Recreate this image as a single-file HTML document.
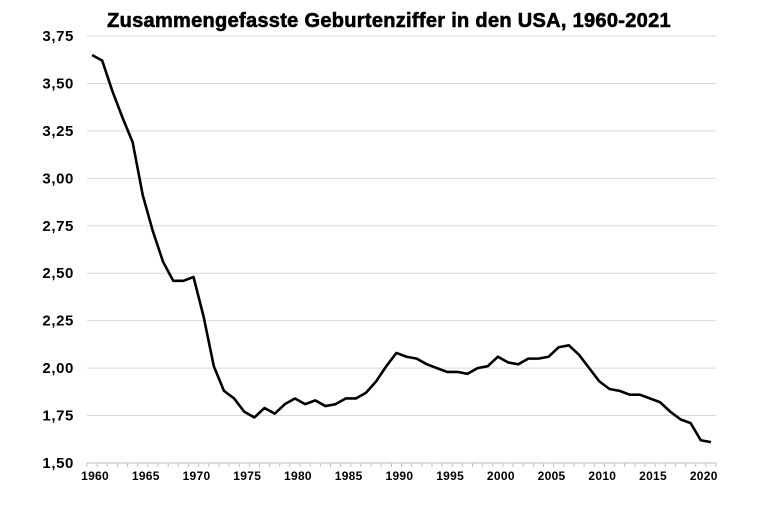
<!DOCTYPE html>
<html><head><meta charset="utf-8"><style>
body{margin:0;background:#fff;}
svg{display:block;font-family:"Liberation Sans",Arial,sans-serif;}
</style></head><body>
<svg id="chart" width="768" height="512" viewBox="0 0 768 512">
<text x="389" y="27" text-anchor="middle" font-size="20" font-weight="bold" letter-spacing="0.3" stroke="#000" stroke-width="0.6">Zusammengefasste Geburtenziffer in den USA, 1960-2021</text>
<g id="grid"></g><g id="axis"></g><g id="series"></g>
</svg>
<script>
const years=[];for(let y=1960;y<=2021;y++)years.push(y);
const tfr=[3.65,3.62,3.46,3.32,3.19,2.91,2.72,2.56,2.46,2.46,2.48,2.27,2.01,1.88,1.84,1.77,1.74,1.79,1.76,1.81,1.84,1.81,1.83,1.80,1.81,1.84,1.84,1.87,1.93,2.01,2.08,2.06,2.05,2.02,2.00,1.98,1.98,1.97,2.00,2.01,2.06,2.03,2.02,2.05,2.05,2.06,2.11,2.12,2.07,2.00,1.93,1.89,1.88,1.86,1.86,1.84,1.82,1.77,1.73,1.71,1.62,1.61];
const yTicks=[1.5,1.75,2.0,2.25,2.5,2.75,3.0,3.25,3.5,3.75];
const yTickLabels=["1,50","1,75","2,00","2,25","2,50","2,75","3,00","3,25","3,50","3,75"];
const xLabelYears=[1960,1965,1970,1975,1980,1985,1990,1995,2000,2005,2010,2015,2020];
const NS="http://www.w3.org/2000/svg";
const x0=87,x1=716,yb=463,yt=36,vmin=1.5,vmax=3.75;
const step=(x1-x0)/years.length;
const X=yr=>x0+step*(yr-years[0]+0.5);
const Y=v=>yb-(v-vmin)/(vmax-vmin)*(yb-yt);
function mk(tag,attrs,parent){const e=document.createElementNS(NS,tag);for(const k in attrs)e.setAttribute(k,attrs[k]);parent.appendChild(e);return e;}
const grid=document.getElementById('grid'),axis=document.getElementById('axis'),ser=document.getElementById('series');
yTicks.forEach((v,i)=>{
 const l=mk('line',{x1:x0,x2:x1,y1:Y(v),y2:Y(v),stroke:i==0?'#bfbfbf':'#d9d9d9','stroke-width':1},grid);
 
 
 const t=mk('text',{x:74,y:Y(v)+5,'text-anchor':'end','font-size':15,'font-weight':'bold','letter-spacing':0.6},axis);
 t.textContent=yTickLabels[i];
 
 
});
for(let i=0;i<=years.length;i++){
 const tx=x0+step*i;
 const tk=mk('line',{x1:tx,x2:tx,y1:yb,y2:yb+4,stroke:'#bfbfbf','stroke-width':1},axis);
 
 
}
xLabelYears.forEach(yr=>{
 const t=mk('text',{x:X(yr)+3,y:480,'text-anchor':'middle','font-size':12,'font-weight':'bold','letter-spacing':0.3},axis);
 t.textContent=yr;
 
 
});
const p=mk('polyline',{points:years.map((yr,i)=>X(yr)+','+Y(tfr[i])).join(' '),fill:'none',stroke:'#000','stroke-width':2.6,'stroke-linejoin':'round'},ser);


</script>
</body></html>
